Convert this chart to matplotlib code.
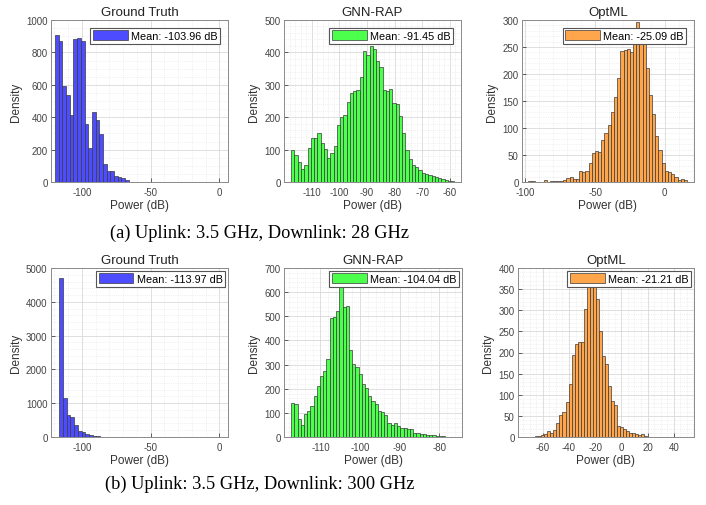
import matplotlib.pyplot as plt
import numpy as np
from matplotlib.ticker import AutoMinorLocator, MultipleLocator

plt.rcParams['font.family'] = ['Liberation Sans', 'DejaVu Sans']
plt.rcParams['axes.unicode_minus'] = False

titles = ['Ground Truth', 'GNN-RAP', 'OptML']
captions = ['(a) Uplink: 3.5 GHz, Downlink: 28 GHz',
            '(b) Uplink: 3.5 GHz, Downlink: 300 GHz']
bar_colors = ['#4d4dff', '#4dff4d', '#ffa64d']

# histogram counts, one list per panel
# row (a): 28 GHz
gt_28 = [905, 870, 590, 535, 415, 885, 890, 870, 360, 210,
         430, 380, 295, 110, 65, 70, 35, 30, 25, 15]
gt_28_bins = (-119.4, 2.67)  # first bin edge, bin width (dB)
gt_28_mean = -103.96

gnn_28 = [99, 82, 61, 41, 51, 105, 135, 137, 150, 119,
          102, 75, 89, 111, 177, 200, 207, 246, 275, 280,
          285, 323, 403, 393, 420, 412, 374, 355, 285, 282,
          287, 245, 240, 205, 150, 100, 70, 52, 45, 38,
          28, 25, 22, 18, 15, 12, 8, 5, 4, 3]
gnn_28_bins = (-117.4, 1.18)
gnn_28_mean = -91.45

opt_28 = [1, 1, 0, 0, 0, 3, 0, 1, 1, 2,
          2, 4, 7, 10, 5, 6, 21, 19, 20, 35,
          53, 58, 56, 77, 90, 106, 130, 157, 192, 243,
          245, 246, 241, 258, 296, 272, 265, 211, 162, 126,
          85, 59, 35, 21, 19, 14, 9, 4, 6, 3]
opt_28_bins = (-98.0, 2.28)
opt_28_mean = -25.09

# row (b): 300 GHz
gt_300 = [4705, 1160, 640, 580, 345, 187, 138, 98, 69, 39, 20]
gt_300_bins = (-116.4, 2.7)
gt_300_mean = -113.97

gnn_300 = [142, 138, 73, 48, 94, 108, 129, 170, 212, 253,
           274, 322, 491, 499, 520, 624, 537, 544, 361, 302,
           292, 260, 218, 205, 170, 149, 136, 108, 104, 90,
           59, 48, 57, 46, 39, 39, 32, 32, 18, 15,
           14, 11, 10, 8, 8, 4, 4, 3, 2]
gnn_300_bins = (-117.4, 0.81)
gnn_300_mean = -104.04

opt_300 = [2, 2, 4, 6, 14, 10, 16, 32, 51, 58,
           83, 126, 194, 221, 226, 224, 303, 365, 372, 360,
           326, 251, 192, 172, 121, 85, 75, 26, 24, 18,
           14, 10, 10, 8, 5, 6, 2, 0, 0, 0,
           0, 0, 1, 1, 0, 1, 1, 0, 0]
opt_300_bins = (-65.9, 2.32)
opt_300_mean = -21.21

rows = [
    [(gt_28, gt_28_bins, gt_28_mean), (gnn_28, gnn_28_bins, gnn_28_mean),
     (opt_28, opt_28_bins, opt_28_mean)],
    [(gt_300, gt_300_bins, gt_300_mean), (gnn_300, gnn_300_bins, gnn_300_mean),
     (opt_300, opt_300_bins, opt_300_mean)],
]

xticks = [
    [[-100, -50, 0], [-110, -100, -90, -80, -70, -60], [-100, -50, 0]],
    [[-100, -50, 0], [-110, -100, -90, -80], [-60, -40, -20, 0, 20, 40]],
]

# layout in pixels: left, top, right, bottom
W, H = 706, 506
rects = [
    [(51, 21, 228, 183), (284, 21, 461, 183), (522, 21, 694, 183)],
    [(51, 269, 228, 438), (284, 269, 462, 438), (518, 269, 694, 438)],
]
xlims = [
    [(-122.4, 6.3), (-120, -56), (-102.5, 21)],
    [(-122.4, 6.3), (-119.2, -74.3), (-79, 55.5)],
]
ylims = [[1000, 500, 300], [5000, 700, 400]]
ysteps = [[200, 100, 50], [1000, 100, 50]]
leg_pad = [0.7, 0.25]
caption_y = [238, 489]

fig = plt.figure(figsize=(W / 100, H / 100), dpi=100)

for r in range(2):
    for c in range(3):
        counts, (start, width), mean = rows[r][c]
        l, t, rr, b = rects[r][c]
        ax = fig.add_axes([l / W, 1 - b / H, (rr - l) / W, (b - t) / H])
        edges = start + width * np.arange(len(counts))
        ax.bar(edges, counts, width=width, align='edge', color=bar_colors[c],
               edgecolor='#3a3a3a', linewidth=0.5,
               label=f'Mean: {mean:.2f} dB', zorder=3)
        ax.set_xlim(*xlims[r][c])
        ax.set_ylim(0, ylims[r][c])
        ax.set_xticks(xticks[r][c])
        ax.yaxis.set_major_locator(MultipleLocator(ysteps[r][c]))
        ax.xaxis.set_minor_locator(AutoMinorLocator())
        ax.yaxis.set_minor_locator(AutoMinorLocator())
        ax.grid(True, which='major', color='#d9d9d9', linewidth=0.6, zorder=0)
        ax.grid(True, which='minor', color='#e4e4e4', linewidth=0.5,
                linestyle=':', zorder=0)
        ax.set_axisbelow(True)
        ax.tick_params(which='major', direction='in', length=3, width=0.6,
                       labelsize=7, colors='#444444', pad=2.5)
        ax.tick_params(axis='x', which='major', pad=3.6)
        ax.tick_params(which='minor', length=0)
        for s in ax.spines.values():
            s.set_color('#8a8a8a')
            s.set_linewidth(0.7)
        ax.set_title(titles[c], fontsize=9.5, pad=3.5, color='#222222')
        ax.set_xlabel('Power (dB)', fontsize=8.5, labelpad=1.5, color='#333333')
        ax.set_ylabel('Density', fontsize=8.5, labelpad=3, color='#333333')
        leg = ax.legend(loc='upper right', fontsize=7.8, handlelength=3.2,
                        handleheight=1.0, handletextpad=0.3, borderpad=0.25,
                        borderaxespad=leg_pad[r], fancybox=False,
                        framealpha=1, edgecolor='#555555')
        leg.get_frame().set_linewidth(0.8)
        leg.set_zorder(5)
    fig.text(260 / W, 1 - caption_y[r] / H, captions[r], ha='center',
             va='baseline', fontsize=13.2, family='Liberation Serif')

fig.savefig('out.png', dpi=100)
